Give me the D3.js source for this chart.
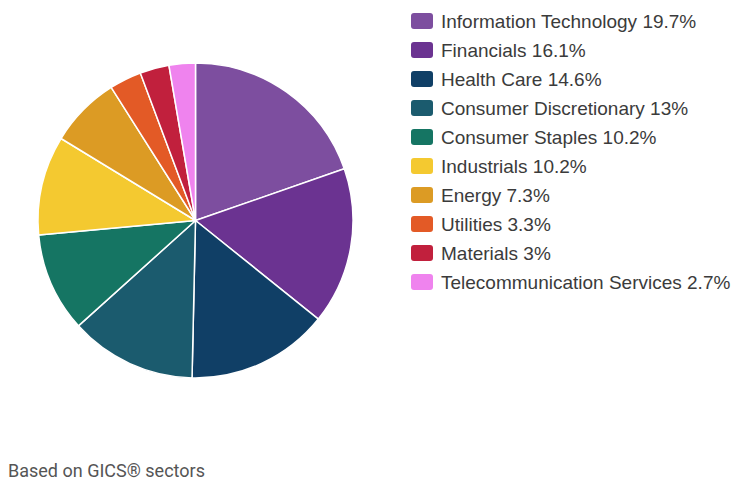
<!DOCTYPE html>
<html><head><meta charset="utf-8">
<script src="https://cdn.jsdelivr.net/npm/d3@7"></script>
<style>html,body{margin:0;padding:0;background:#fff;}svg{display:block;}</style>
</head><body>
<svg id="chart" width="735" height="479"></svg>
<script>
const categories = ["Information Technology","Financials","Health Care","Consumer Discretionary","Consumer Staples","Industrials","Energy","Utilities","Materials","Telecommunication Services"];
const values = [19.7,16.1,14.6,13,10.2,10.2,7.3,3.3,3,2.7];
const valueLabels = ["19.7%","16.1%","14.6%","13%","10.2%","10.2%","7.3%","3.3%","3%","2.7%"];
const colors = ["#7d4e9f","#6b3391","#103f66","#1b5b6e","#157563","#f4c930","#dc9b24","#e35a26","#c1203d","#ef83ee"];
const footnote = "Based on GICS® sectors";

const svg = d3.select("#chart");
const cx = 195.5, cy = 220.5, r = 157.5;
const data = categories.map((c,i)=>({name:c,value:values[i],label:valueLabels[i],color:colors[i]}));
const pie = d3.pie().value(d=>d.value).sort(null);
const arc = d3.arc().innerRadius(0).outerRadius(r);
svg.append("g").attr("transform",`translate(${cx},${cy})`)
  .selectAll("path").data(pie(data)).join("path")
  .attr("d",arc).attr("fill",d=>d.data.color)
  .attr("stroke","#fff").attr("stroke-width",1.5).attr("stroke-linejoin","round");

const lg = svg.append("g").attr("transform","translate(411,13)");
const row = lg.selectAll("g").data(data).join("g").attr("transform",(d,i)=>`translate(0,${i*29})`);
row.append("rect").attr("width",22).attr("height",16).attr("rx",3).attr("fill",d=>d.color);
row.append("text").attr("x",30).attr("y",14.5)
  .style("font-family","'Liberation Sans', Arial, sans-serif").attr("font-size",19)
  .attr("fill","#3b3b3b")
  .text(d=>d.name+" "+d.label);

svg.append("text").attr("x",8).attr("y",476.5)
  .style("font-family","Roboto, 'Liberation Sans', sans-serif").attr("font-size",18)
  .attr("fill","#555").text(footnote);
</script>
</body></html>
